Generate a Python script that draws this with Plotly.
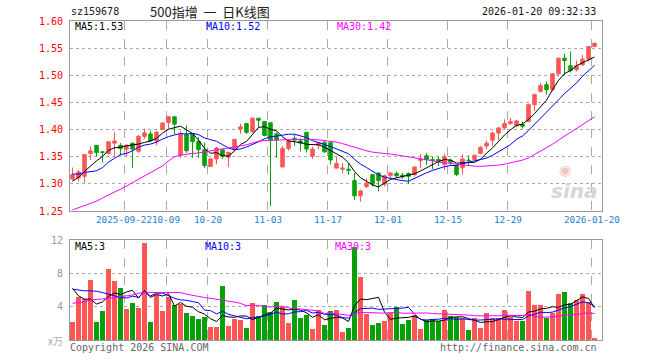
import numpy as np
import pandas as pd
import plotly.graph_objects as go

# ---------------- data ----------------
sep_days = [9, 10, 11, 12, 15, 16, 17, 18, 19, 22, 23, 24, 25, 26, 29, 30]
oct_days = [9, 10, 13, 14, 15, 16, 17, 20, 21, 22, 23, 24, 27, 28, 29, 30, 31]
nov_days = [3, 4, 5, 6, 7, 10, 11, 12, 13, 14, 17, 18, 19, 20, 21, 24, 25, 26, 27, 28]
dec_days = [1, 2, 3, 4, 5, 8, 9, 10, 11, 12, 15, 16, 17, 18, 19, 22, 23, 24, 25, 26, 29, 30, 31]
jan_days = [5, 6, 7, 8, 9, 12, 13, 14, 15, 16, 19, 20]
dates = ([f"2025-09-{d:02d}" for d in sep_days] + [f"2025-10-{d:02d}" for d in oct_days] +
         [f"2025-11-{d:02d}" for d in nov_days] + [f"2025-12-{d:02d}" for d in dec_days] +
         [f"2026-01-{d:02d}" for d in jan_days])

open_ = [1.309, 1.311, 1.314, 1.356, 1.371, 1.359, 1.356, 1.375, 1.371, 1.364,
         1.375, 1.360, 1.3875, 1.392, 1.379, 1.400, 1.413, 1.4235, 1.353, 1.391,
         1.391, 1.378, 1.363, 1.332, 1.346, 1.363, 1.349, 1.363, 1.401, 1.411,
         1.396, 1.421, 1.415, 1.4125, 1.392, 1.331, 1.365, 1.384, 1.379, 1.395,
         1.351, 1.371, 1.376, 1.376, 1.329, 1.327, 1.327, 1.306, 1.278, 1.295,
         1.317, 1.320, 1.2995, 1.315, 1.319, 1.316, 1.319, 1.317, 1.343, 1.352,
         1.345, 1.345, 1.3358, 1.3438, 1.334, 1.3296, 1.3438, 1.345, 1.3562, 1.3697,
         1.3805, 1.3935, 1.403, 1.411, 1.4075, 1.4095, 1.4153, 1.4459, 1.4704, 1.4826,
         1.4734, 1.5028, 1.5316, 1.5175, 1.5102, 1.5193, 1.5297, 1.553]
high = [1.330, 1.326, 1.355, 1.369, 1.371, 1.360, 1.379, 1.395, 1.375, 1.373,
        1.376, 1.390, 1.402, 1.398, 1.398, 1.413, 1.424, 1.4235, 1.398, 1.408,
        1.392, 1.386, 1.376, 1.348, 1.368, 1.364, 1.358, 1.382, 1.411, 1.412,
        1.422, 1.421, 1.415, 1.4125, 1.395, 1.370, 1.3825, 1.390, 1.384, 1.395,
        1.369, 1.3775, 1.379, 1.376, 1.350, 1.338, 1.338, 1.320, 1.289, 1.310,
        1.317, 1.321, 1.317, 1.321, 1.323, 1.320, 1.321, 1.332, 1.3555, 1.357,
        1.350, 1.350, 1.356, 1.346, 1.3358, 1.3541, 1.3525, 1.3543, 1.370, 1.380,
        1.396, 1.405, 1.419, 1.4215, 1.4175, 1.415, 1.4478, 1.4661, 1.4857, 1.4887,
        1.504, 1.5316, 1.5395, 1.5438, 1.5273, 1.5377, 1.553, 1.5603]
low = [1.306, 1.305, 1.302, 1.344, 1.350, 1.339, 1.354, 1.348, 1.352, 1.351,
       1.329, 1.357, 1.383, 1.377, 1.371, 1.400, 1.402, 1.391, 1.348, 1.357,
       1.348, 1.348, 1.329, 1.331, 1.336, 1.346, 1.331, 1.360, 1.392, 1.392,
       1.394, 1.404, 1.3875, 1.259, 1.348, 1.331, 1.361, 1.370, 1.360, 1.3575,
       1.346, 1.364, 1.3575, 1.3356, 1.328, 1.320, 1.317, 1.270, 1.267, 1.292,
       1.295, 1.286, 1.295, 1.3086, 1.311, 1.309, 1.300, 1.3136, 1.329, 1.335,
       1.3266, 1.3327, 1.3253, 1.334, 1.3142, 1.3173, 1.334, 1.3438, 1.3543, 1.3636,
       1.370, 1.381, 1.401, 1.409, 1.4045, 1.402, 1.4135, 1.4337, 1.4686, 1.4643,
       1.4704, 1.4979, 1.501, 1.5053, 1.5071, 1.5175, 1.5255, 1.5518]
close = [1.317, 1.322, 1.354, 1.361, 1.3575, 1.358, 1.3775, 1.379, 1.365, 1.371,
         1.364, 1.3875, 1.394, 1.379, 1.395, 1.412, 1.4235, 1.410, 1.391, 1.361,
         1.378, 1.363, 1.334, 1.346, 1.366, 1.351, 1.358, 1.382, 1.405, 1.395,
         1.421, 1.417, 1.389, 1.381, 1.381, 1.365, 1.379, 1.381, 1.375, 1.364,
         1.364, 1.376, 1.359, 1.344, 1.3375, 1.329, 1.325, 1.278, 1.287, 1.301,
         1.2995, 1.306, 1.315, 1.320, 1.315, 1.313, 1.314, 1.331, 1.3457, 1.3444,
         1.3426, 1.3414, 1.350, 1.340, 1.3173, 1.346, 1.3426, 1.3525, 1.3672, 1.375,
         1.3935, 1.403, 1.411, 1.415, 1.416, 1.406, 1.4459, 1.4643, 1.4808, 1.4734,
         1.5028, 1.5316, 1.5273, 1.5089, 1.5175, 1.5297, 1.553, 1.559]
volume = [2.20, 5.16, 4.96, 7.16, 2.12, 3.44, 8.48, 7.04, 6.20, 3.68,
          4.40, 3.80, 11.60, 2.12, 5.44, 3.44, 5.20, 4.16, 4.28, 3.20,
          2.84, 2.48, 2.72, 1.52, 1.52, 6.44, 1.64, 2.48, 2.36, 1.40,
          4.40, 2.84, 4.16, 3.32, 4.52, 4.00, 2.00, 4.76, 2.60, 2.96,
          1.28, 3.56, 1.76, 3.44, 3.56, 0.92, 1.40, 11.20, 7.52, 3.16,
          1.76, 2.00, 2.24, 3.20, 3.92, 1.88, 2.36, 2.96, 1.28, 2.36,
          2.48, 2.24, 3.56, 2.84, 2.72, 2.60, 1.16, 2.60, 1.40, 3.20,
          2.60, 2.60, 3.56, 2.84, 2.24, 2.24, 5.84, 4.16, 4.16, 2.60,
          3.20, 5.48, 5.72, 4.40, 4.76, 5.48, 4.52, 0.20]

# moving-average values at the start of the window (they depend on earlier days)
price_ma5_head = [1.305, 1.312, 1.323, 1.333]
price_ma10_head = [1.318, 1.318, 1.321, 1.323, 1.324, 1.330, 1.340, 1.347, 1.354]
price_ma30_head = [1.252, 1.256, 1.260, 1.263, 1.268, 1.274, 1.280, 1.285, 1.290, 1.296,
                   1.302, 1.308, 1.314, 1.320, 1.326, 1.333, 1.342, 1.350, 1.353, 1.355,
                   1.356, 1.357, 1.359, 1.360, 1.362, 1.364, 1.366, 1.369, 1.371]
vol_ma5_head = [6.2, 5.3, 4.9, 4.9]
vol_ma10_head = [6.1, 6.0, 5.9, 5.9, 5.85, 5.7, 5.5, 5.3, 5.1]
vol_ma30_head = [4.4, 4.5, 4.6, 4.8, 4.85, 4.9, 5.0, 5.1, 5.2, 5.3,
                 5.4, 5.6, 5.75, 5.7, 5.7, 5.7, 5.7, 5.7, 5.7, 5.5,
                 5.35, 5.25, 5.1, 5.0, 4.9, 4.8, 4.7, 4.55, 4.4]

tick_dates = ["2025-09-22", "2025-10-09", "2025-10-20", "2025-11-03", "2025-11-17",
              "2025-12-01", "2025-12-15", "2025-12-29", "2026-01-20"]
tick_text = ["2025-09-22", "10-09", "10-20", "11-03", "11-17", "12-01", "12-15", "12-29", "2026-01-20"]
price_ticks = [1.25, 1.30, 1.35, 1.40, 1.45, 1.50, 1.55, 1.60]
vol_ticks = [4, 8, 12]

# ---------------- styling ----------------
RED = "#FF5555"
GREEN = "#08A008"
GRID = "#AAAAAA"
BORDER = "#999999"
MONO = "DejaVu Sans Mono"
W, H = 660, 360
L, R, T, B = 70, 58, 21, 20
PW, PH = W - L - R, H - T - B


def px(x):
    return (x - L) / PW


def py(y):
    return (H - B - y) / PH


def moving_avg(values, n, head):
    s = pd.Series(values, dtype=float).rolling(n).mean()
    s.iloc[:len(head)] = head
    return s.tolist()


xi = np.arange(len(dates))
tickvals = [dates.index(d) - 0.42 for d in tick_dates]
bar_colors = [RED if c >= o else GREEN for o, c in zip(open_, close)]

fig = go.Figure()
fig.add_trace(go.Candlestick(
    x=xi, open=open_, high=high, low=low, close=close,
    increasing=dict(line=dict(color=RED, width=1), fillcolor=RED),
    decreasing=dict(line=dict(color=GREEN, width=1), fillcolor=GREEN),
    whiskerwidth=0, xaxis="x", yaxis="y", showlegend=False, hoverinfo="skip"))

for n, head, col in [(5, price_ma5_head, "#000000"), (10, price_ma10_head, "#0000FF"),
                     (30, price_ma30_head, "#FF00FF")]:
    fig.add_trace(go.Scatter(x=xi, y=moving_avg(close, n, head), mode="lines",
                             line=dict(color=col, width=1), xaxis="x", yaxis="y",
                             showlegend=False, hoverinfo="skip"))

fig.add_trace(go.Bar(x=xi, y=volume, marker=dict(color=bar_colors, line=dict(width=0)),
                     width=0.83, xaxis="x2", yaxis="y2", showlegend=False, hoverinfo="skip"))
for n, head, col in [(5, vol_ma5_head, "#000000"), (10, vol_ma10_head, "#0000FF"),
                     (30, vol_ma30_head, "#FF00FF")]:
    fig.add_trace(go.Scatter(x=xi, y=moving_avg(volume, n, head), mode="lines",
                             line=dict(color=col, width=1), xaxis="x2", yaxis="y2",
                             showlegend=False, hoverinfo="skip"))

xrange = [-0.42, 88.25]
common_x = dict(range=xrange, tickmode="array", tickvals=tickvals, showgrid=True,
                gridcolor=GRID, griddash="dash", gridwidth=1, zeroline=False,
                showline=True, mirror=True, linecolor=BORDER, linewidth=1, ticks="",
                tickangle=0, automargin=False, fixedrange=True)
common_y = dict(showgrid=True, gridcolor=GRID, griddash="dot", zeroline=False,
                showline=True, mirror=True, linecolor=BORDER, linewidth=1, ticks="",
                ticklabelstandoff=4, automargin=False, fixedrange=True, tickmode="array")

fig.update_layout(
    width=W, height=H, margin=dict(l=L, r=R, t=T, b=B, autoexpand=False),
    paper_bgcolor="white", plot_bgcolor="white",
    boxgap=0.17, bargap=0,
    font=dict(family=MONO, size=10, color="#333333"),
    xaxis=dict(**common_x, domain=[0, 1], anchor="y", ticktext=tick_text,
               tickfont=dict(family=MONO, size=9.3, color="#1A7FD0"),
               rangeslider=dict(visible=False)),
    xaxis2=dict(**common_x, domain=[0, 1], anchor="y2", matches="x", showticklabels=False),
    yaxis=dict(**common_y, domain=[py(211), 1], range=[1.25, 1.60], tickvals=price_ticks,
               ticktext=[f"{v:.2f}" for v in price_ticks],
               tickfont=dict(family=MONO, size=10, color="#FF0000")),
    yaxis2=dict(**common_y, domain=[0, py(240)], range=[0, 12], tickvals=vol_ticks,
                ticktext=[str(v) for v in vol_ticks],
                tickfont=dict(family=MONO, size=10, color="#999999")),
)


def note(text, x, y, color="#000000", anchor="left", size=10, family=MONO, **kw):
    fig.add_annotation(text=text, x=px(x), y=py(y), xref="paper", yref="paper",
                       xanchor=anchor, yanchor="middle", showarrow=False,
                       font=dict(family=family, size=size, color=color), **kw)


NB = "\u00a0"
note("sz159678", 69, 12, "#222222")
note(f"500指增{NB}{NB}一{NB}{NB}日K线图", 148, 12, "#222222", size=13, family="Noto Sans CJK SC")
note("2026-01-20 09:32:33", 598, 12, "#111111", anchor="right")
note("MA5:1.53", 73, 27, "#000000")
note("MA10:1.52", 204, 27, "#0000FF")
note("MA30:1.42", 335, 27, "#FF00FF")
note("MA5:3", 73, 246, "#000000")
note("MA10:3", 203, 246, "#0000FF")
note("MA30:3", 333, 246, "#FF00FF")
note("x万", 65, 340, "#AAAAAA", anchor="right", family="Noto Sans CJK SC")
note("Copyright 2026 SINA.COM", 68, 347, "#666666")
note("http://finance.sina.com.cn", 599, 347, "#666666", anchor="right")
note("<b><i>sina</i></b>", 574, 191, "#D6D6D6", anchor="center", size=20, family="DejaVu Sans")
note("◉", 565, 170, "#F3C4C4", anchor="center", size=14, family="DejaVu Sans")

fig.write_html("out.html", config={"displayModeBar": False, "staticPlot": True},
               post_script="document.body.style.margin='0';document.body.style.overflow='hidden';")
